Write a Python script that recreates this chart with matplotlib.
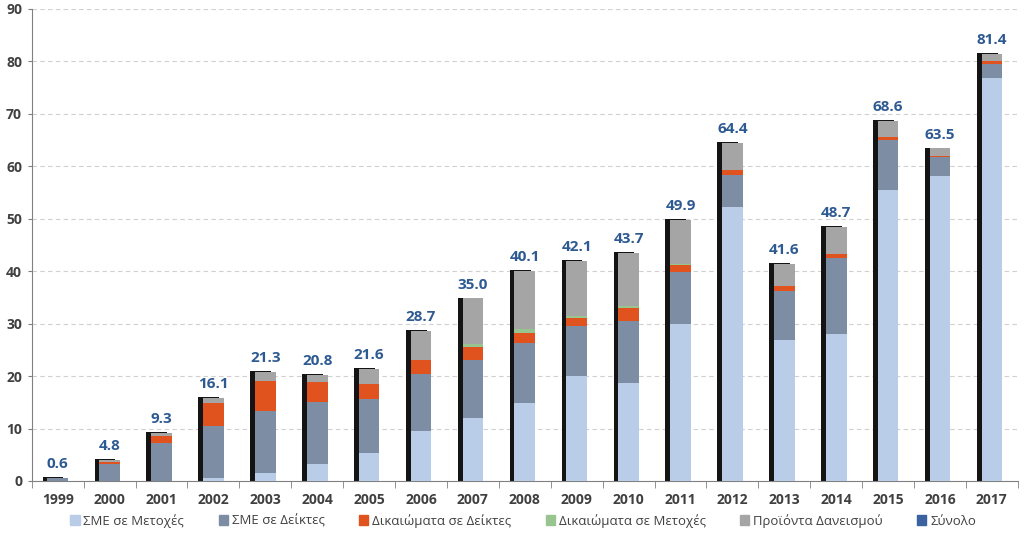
import numpy as np
import matplotlib
matplotlib.use("Agg")
import matplotlib.pyplot as plt
from matplotlib.patches import Patch

plt.rcParams['font.family'] = ['Open Sans', 'DejaVu Sans']

years = [str(y) for y in range(1999, 2018)]

# component values
sme_metoxes = [0.0, 0.0, 0.0, 0.5, 1.6, 3.25, 5.3, 9.6, 12.05, 14.8, 20.0, 18.75,
               29.9, 52.3, 26.9, 28.0, 55.5, 58.2, 76.8]
sme_deiktes = [0.5, 3.3, 7.3, 9.9, 11.75, 11.75, 10.3, 10.75, 11.0, 11.6, 9.6, 11.8,
               10.0, 6.05, 9.4, 14.5, 9.5, 3.5, 2.7]
dik_deiktes = [0.0, 0.4, 1.3, 4.45, 5.75, 3.8, 2.9, 2.7, 2.45, 1.8, 1.5, 2.4,
               1.3, 0.95, 0.95, 0.7, 0.66, 0.3, 0.5]
dik_metoxes = [0.0, 0.0, 0.0, 0.0, 0.0, 0.0, 0.0, 0.0, 0.6, 0.7, 0.35, 0.4,
               0.1, 0.0, 0.0, 0.0, 0.0, 0.0, 0.0]
daneismos = [0.1, 0.3, 0.5, 1.05, 1.7, 1.5, 2.85, 5.55, 8.7, 11.15, 10.5, 10.2,
             8.5, 5.1, 4.15, 5.3, 3.0, 1.4, 1.4]
totals = [0.6, 4.8, 9.3, 16.1, 21.3, 20.8, 21.6, 28.7, 35.0, 40.1, 42.1, 43.7,
          49.9, 64.4, 41.6, 48.7, 68.6, 63.5, 81.4]

series = [
    ("ΣΜΕ σε Μετοχές", sme_metoxes, "#B9CDE8"),
    ("ΣΜΕ σε Δείκτες", sme_deiktes, "#7D8DA3"),
    ("Δικαιώματα σε Δείκτες", dik_deiktes, "#E0531F"),
    ("Δικαιώματα σε Μετοχές", dik_metoxes, "#98C58F"),
    ("Προϊόντα Δανεισμού", daneismos, "#A5A5A5"),
]

fig = plt.figure(figsize=(10.24, 5.33), dpi=100)
ax = fig.add_axes([0.031, 0.0976, 0.963, 0.8856])

x = np.arange(len(years))
w = 0.40
stack_top = np.sum([s[1] for s in series], axis=0)

# dark shadow behind each bar
ax.bar(x - 0.09, stack_top + 0.15, width=w, color="#141414", zorder=2)

bottom = np.zeros(len(years))
for name, vals, col in series:
    ax.bar(x, vals, width=w, bottom=bottom, color=col, zorder=3, label=name)
    bottom += np.array(vals)

for xi, top, tot in zip(x, stack_top, totals):
    ax.annotate(f"{tot:.1f}", (xi, top), xytext=(0, 5), textcoords="offset points",
                ha="center", va="bottom", fontsize=11, fontweight="bold",
                color="#2E5A92")

ax.set_xlim(-0.48, 18.48)
ax.set_ylim(0, 90)
ax.set_yticks(range(0, 91, 10))
ax.yaxis.grid(True, linestyle=(0, (4, 3)), color="#D0D0D0", linewidth=0.8, zorder=0)
ax.set_axisbelow(True)

ax.set_xticks(x)
ax.set_xticklabels(years, fontsize=10, fontweight="bold", color="#404040")
ax.set_xticks(np.arange(-0.5, 18.6, 1), minor=True)
ax.tick_params(axis="x", which="major", length=0, pad=9)
ax.tick_params(axis="x", which="minor", length=5, color="#808080", direction="out")
ax.tick_params(axis="y", length=3, color="#808080", labelsize=10, pad=4,
               labelcolor="#404040")
for lbl in ax.get_yticklabels():
    lbl.set_fontweight("bold")

for s in ["top", "right"]:
    ax.spines[s].set_visible(False)
for s in ["left", "bottom"]:
    ax.spines[s].set_color("#808080")

handles = [Patch(color=c) for _, _, c in series] + [Patch(color="#3A62A0")]
labels = [n for n, _, _ in series] + ["Σύνολο"]
fig.legend(handles, labels, loc="lower center", bbox_to_anchor=(0.511, -0.012),
           ncol=6, frameon=False, fontsize=9.5, handlelength=0.7, handleheight=0.7,
           handletextpad=0.3, columnspacing=2.6, labelcolor="#404040")

fig.savefig("out.png", dpi=100)
